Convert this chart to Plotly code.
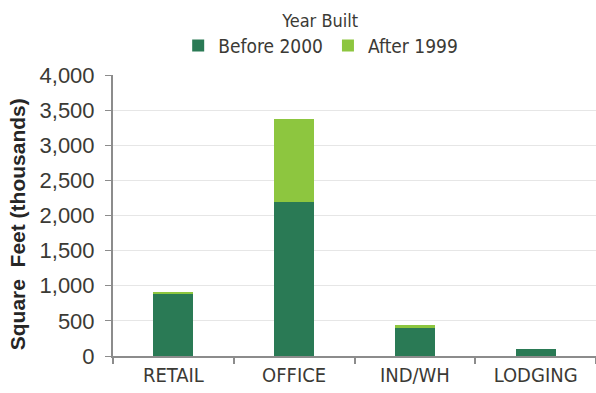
import plotly.graph_objects as go

categories = ["RETAIL", "OFFICE", "IND/WH", "LODGING"]
before_2000 = [885, 2195, 400, 95]
after_1999 = [30, 1175, 37, 0]
y_ticks = [0, 500, 1000, 1500, 2000, 2500, 3000, 3500, 4000]
y_tick_labels = ["0", "500", "1,000", "1,500", "2,000", "2,500", "3,000", "3,500", "4,000"]

cond = "DejaVu Sans Condensed, Liberation Sans Narrow, sans-serif"
sans = "Liberation Sans, Arial, sans-serif"
txt = "#3b3a35"

fig = go.Figure()
fig.add_trace(go.Bar(x=categories, y=before_2000, name="Before 2000",
                     marker=dict(color="#2a7a55", line=dict(width=0))))
fig.add_trace(go.Bar(x=categories, y=after_1999, name="After 1999",
                     marker=dict(color="#8dc63f", line=dict(width=0))))

fig.update_layout(
    width=596, height=393,
    barmode="stack", bargap=0.67,
    paper_bgcolor="white", plot_bgcolor="white",
    margin=dict(l=113, r=0, t=75, b=37),
    font=dict(family=cond, color=txt, size=19),
    legend=dict(
        orientation="h", x=0.43, xanchor="center", y=1.035, yanchor="bottom",
        traceorder="normal",
        title=dict(text="Year Built", side="top center", font=dict(family=cond, size=18, color=txt)),
        font=dict(family=cond, size=19, color=txt),
        itemwidth=30, tracegroupgap=0,
    ),
    showlegend=True,
    xaxis=dict(
        showline=True, linecolor="#8c8c8c", linewidth=2,
        ticks="outside", tickson="boundaries", ticklen=6, tickcolor="#8c8c8c", tickwidth=2,
        tickfont=dict(family=cond, size=20, color=txt),
        showgrid=False,
    ),
    yaxis=dict(
        range=[0, 4000], tickvals=y_ticks, ticktext=y_tick_labels,
        showline=True, linecolor="#8c8c8c", linewidth=2,
        ticks="outside", ticklen=6, tickcolor="#8c8c8c", tickwidth=1,
        ticklabelstandoff=6,
        showgrid=True, gridcolor="#e6e6e6", gridwidth=1,
        tickfont=dict(family=sans, size=22, color=txt),
        zeroline=False,
    ),
    annotations=[dict(
        text="Square  Feet (thousands)", textangle=-90,
        xref="paper", yref="paper", x=-0.196, y=0.47,
        xanchor="center", yanchor="middle", showarrow=False,
        font=dict(family=sans, size=21, color="#262626", weight="bold"),
    )],
)

fig.write_html("out.html")
